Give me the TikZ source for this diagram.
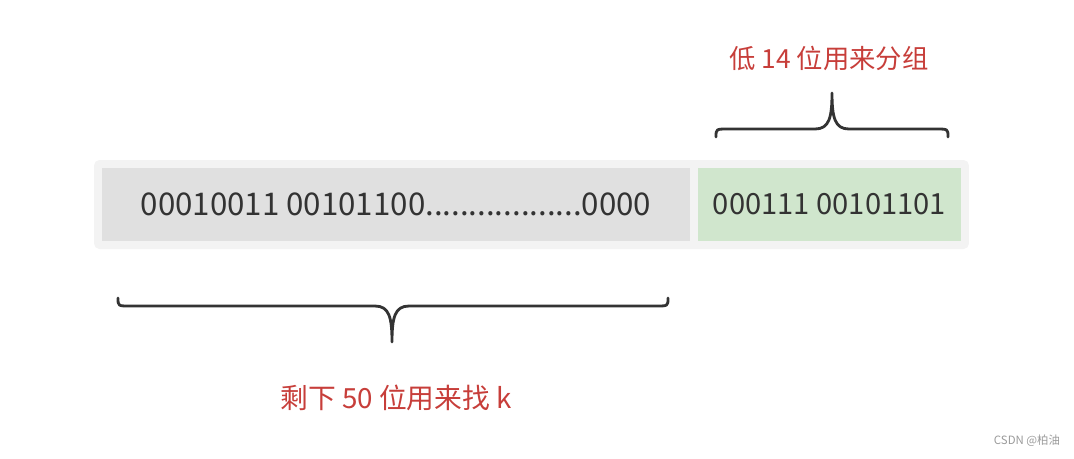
\documentclass[tikz,border=0pt]{standalone}
\usepackage{fontspec}
\setmainfont{Noto Sans CJK SC}
\usepackage{tikz}
\usetikzlibrary{positioning}

\definecolor{barbg}{HTML}{F3F3F3}
\definecolor{highbg}{HTML}{E0E0E0}
\definecolor{lowbg}{HTML}{D0E6CD}
\definecolor{bitsfg}{HTML}{333333}
\definecolor{notered}{HTML}{C73E3A}
\definecolor{markgray}{HTML}{9A9A9A}

\begin{document}
\begin{tikzpicture}[x=0.02cm, y=-0.02cm,
  bits/.style={fill=highbg, text=bitsfg, inner sep=0pt, minimum height=1.46cm,
    font=\fontsize{16.6}{18}\selectfont},
  note/.style={text=notered, inner sep=0pt, font=\fontsize{15}{18}\selectfont},
  brace/.style={draw=bitsfg, line width=1.6pt, line cap=round, line join=round}]
  \useasboundingbox (0,0) rectangle (1074,458);

  % the 64-bit word
  \node (bar) [fill=barbg, rounded corners=3pt, minimum width=17.5cm,
    minimum height=1.78cm, inner sep=0pt] at (531.5,204.5) {};
  \node (high) [bits, minimum width=11.76cm, font=\fontsize{17.8}{20}\selectfont]
    at (396,204.5) {00010011 00101100..................0000};
  \node (low) [bits, fill=lowbg, minimum width=5.26cm] at (829.5,204.5)
    {000111 00101101};

  % brace over the low bits
  \coordinate (ltip) at (832,93);
  \draw[brace] (716,137) .. controls (716,129) .. (728,129) -- (815,129)
    .. controls (829,129) and (832,118) .. (ltip)
    .. controls (832,118) and (835,129) .. (849,129) -- (936,129)
    .. controls (948,129) .. (948,137);
  \node (lownote) [note] at (829,58) {低 14 位用来分组};

  % brace under the high bits
  \coordinate (htip) at (392,342);
  \draw[brace] (118,298) .. controls (118,306) .. (130,306) -- (375,306)
    .. controls (389,306) and (392,317) .. (htip)
    .. controls (392,317) and (395,306) .. (409,306) -- (656,306)
    .. controls (668,306) .. (668,298);
  \node (highnote) [note, font=\fontsize{15.8}{18}\selectfont] at (396,398)
    {剩下 50 位用来找 k};

  \node (mark) [text=markgray, inner sep=0pt, font=\fontsize{6.5}{8}\selectfont]
    at (1027,441) {CSDN @柏油};
\end{tikzpicture}
\end{document}
